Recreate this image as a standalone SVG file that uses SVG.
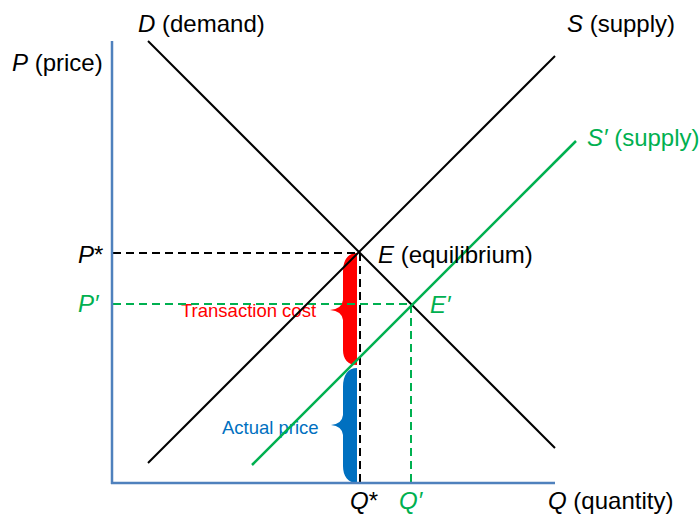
<svg xmlns="http://www.w3.org/2000/svg" width="699" height="521" viewBox="0 0 699 521">
<style>
text{font-family:"Liberation Sans",Arial,sans-serif;font-size:24px;fill:#000}
.g{fill:#00B050}
.i{font-style:italic}
.sm{font-size:18.5px}
.ax{stroke:#4F81BD;stroke-width:2.5;fill:none}
.bl{stroke:#000;stroke-width:2;fill:none}
.gr{stroke:#00B050;stroke-width:2.5;fill:none}
.bd{stroke:#000;stroke-width:2;stroke-dasharray:8 5;fill:none}
.gd{stroke:#00B050;stroke-width:2;stroke-dasharray:8 5;fill:none}
</style>
<rect width="699" height="521" fill="#fff"/>
<g id="brace-transaction">
<path d="M357,253 C348,253 343,260 343,272 L343,300 Q342,309 330,310 Q342,311 343,320 L343,350 C343,359 348,365 357,365 Z" fill="#FF0000"/>
<text x="181" y="317" class="sm" style="fill:#FF0000">Transaction cost</text>
</g>
<g id="brace-actual">
<path d="M357,368 C348,368 343,375 343,387 L343,415 Q342,424 331,425 Q342,426 343,435 L343,466 C343,476 348,483 357,483 Z" fill="#0070C0"/>
<text x="222" y="434" class="sm" style="fill:#0070C0">Actual price</text>
</g>
<g id="connectors">
<line class="bd" x1="113" y1="253" x2="359" y2="253"/>
<line class="bd" x1="360" y1="253" x2="360" y2="483"/>
<line class="gd" x1="113" y1="304" x2="411" y2="304"/>
<line class="gd" x1="411" y1="305" x2="411" y2="483"/>
<line class="bl" x1="148" y1="41" x2="555" y2="448"/>
<line class="bl" x1="148" y1="463" x2="555" y2="56"/>
<line class="gr" x1="252" y1="465" x2="576" y2="141"/>
<line class="ax" x1="112" y1="41" x2="112" y2="484"/>
<line class="ax" x1="111" y1="483" x2="555" y2="483"/>
</g>
<g id="label-D"><text x="138" y="32"><tspan class="i">D</tspan> (demand)</text></g>
<g id="label-P"><text x="12" y="71"><tspan class="i">P</tspan> (price)</text></g>
<g id="label-S"><text x="567" y="32"><tspan class="i">S</tspan> (supply)</text></g>
<g id="label-S2"><text x="587" y="146" class="g"><tspan class="i">S′</tspan> (supply)</text></g>
<g id="label-Pstar"><text x="78" y="263"><tspan class="i">P</tspan>*</text></g>
<g id="label-P2"><text x="78" y="312" class="g i">P′</text></g>
<g id="label-E"><text x="378" y="263"><tspan class="i">E</tspan> (equilibrium)</text></g>
<g id="label-E2"><text x="430" y="313" class="g i">E′</text></g>
<g id="label-Qstar"><text x="350" y="509"><tspan class="i">Q</tspan>*</text></g>
<g id="label-Q2"><text x="399" y="509" class="g i">Q′</text></g>
<g id="label-Q"><text x="548" y="509"><tspan class="i">Q</tspan> (quantity)</text></g>
</svg>
